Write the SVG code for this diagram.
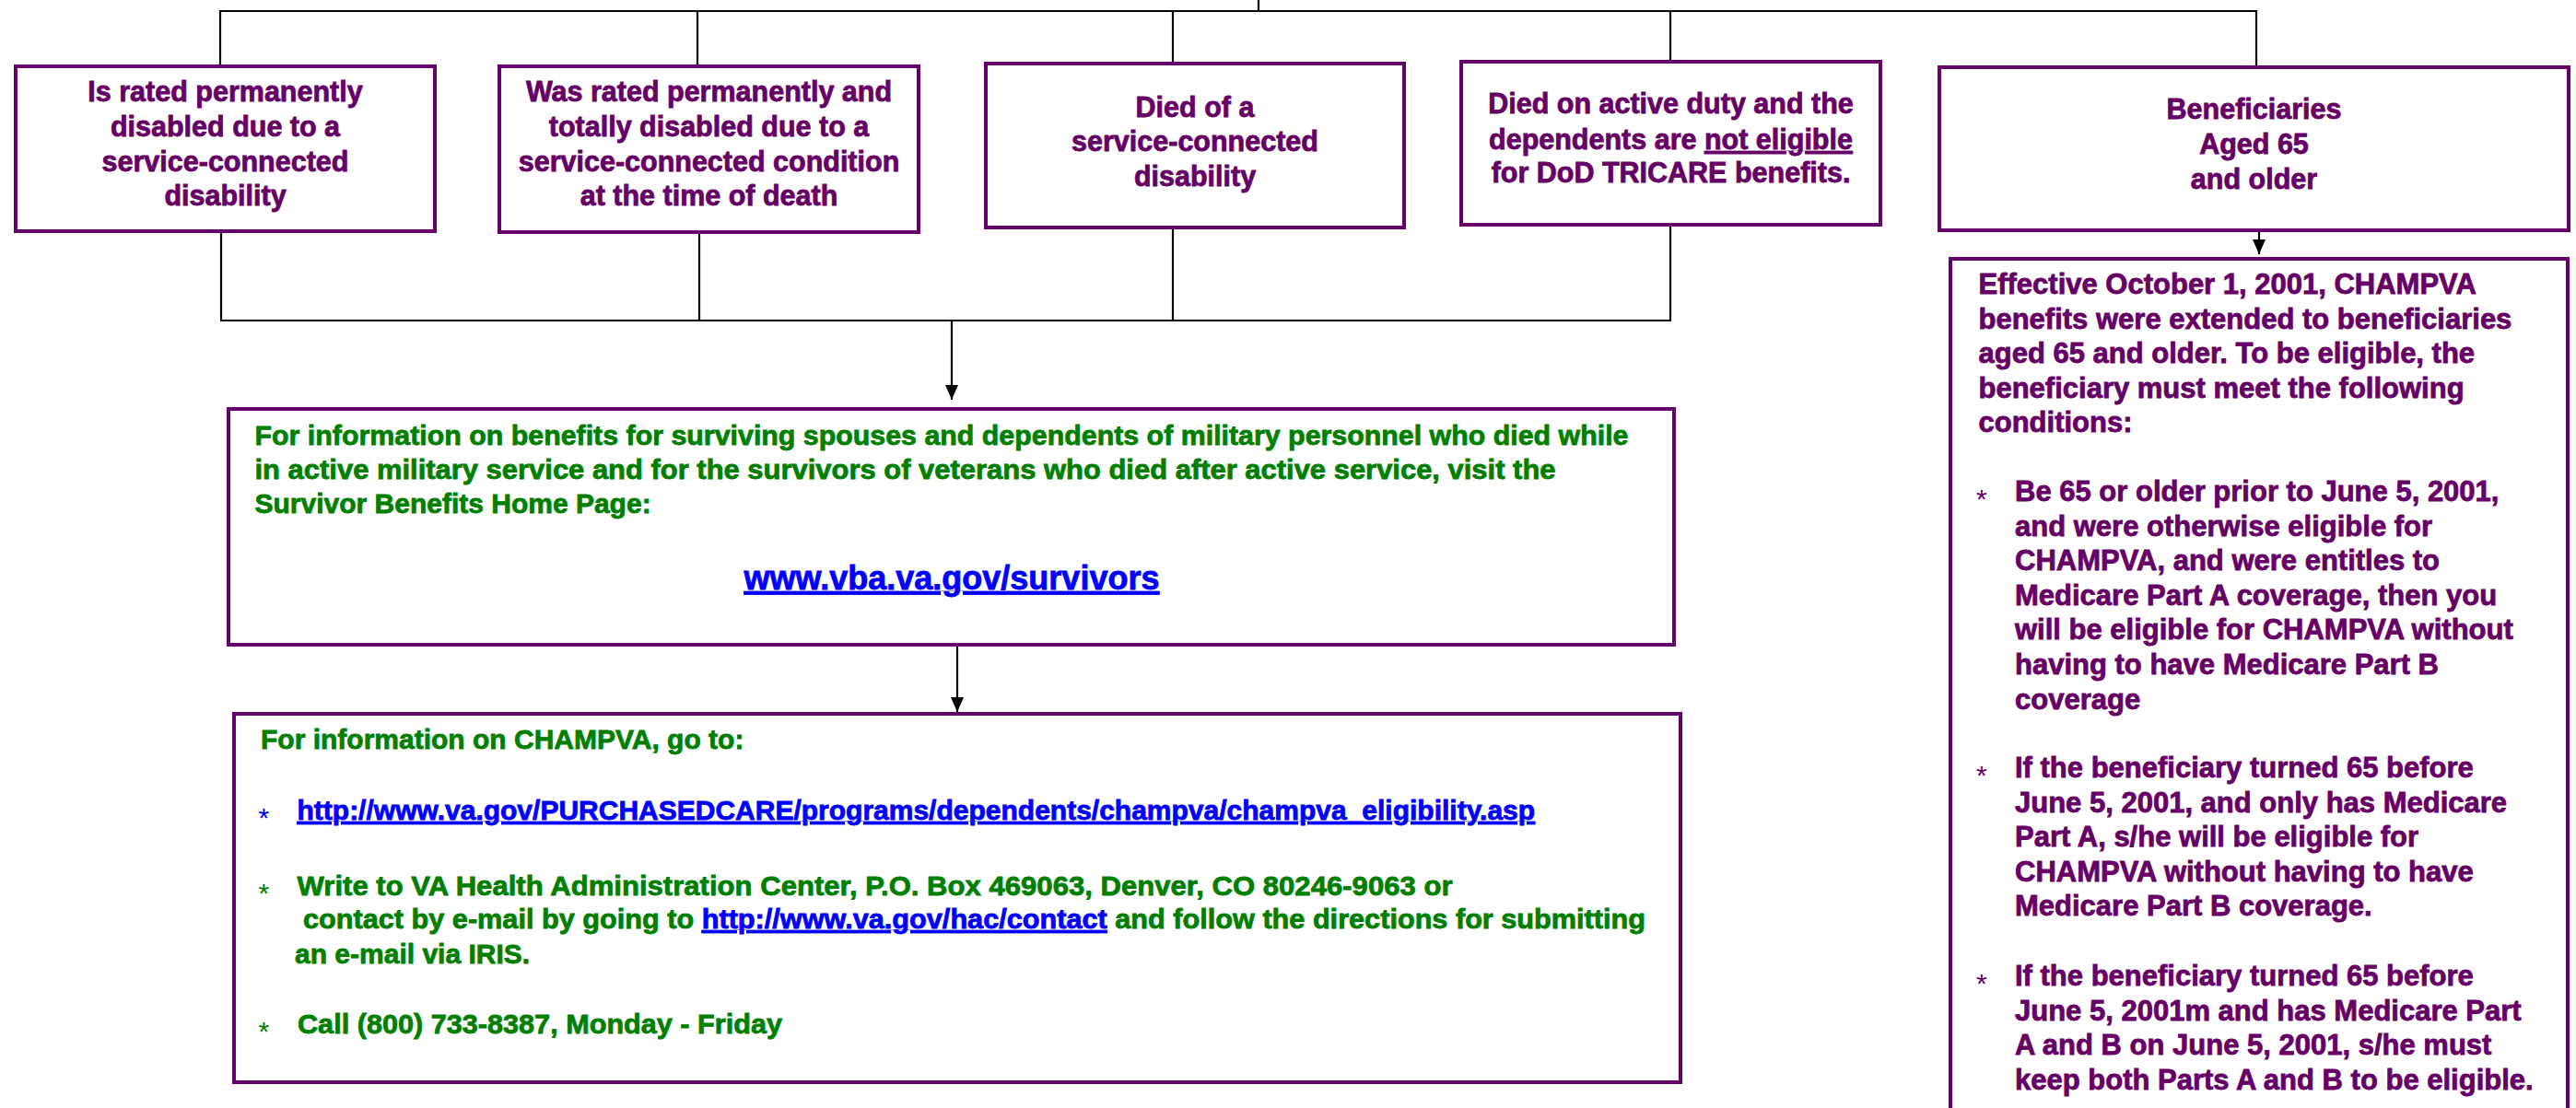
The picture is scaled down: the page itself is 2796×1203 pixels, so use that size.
<svg xmlns="http://www.w3.org/2000/svg" width="2796" height="1203" viewBox="0 0 2796 1203">
<defs>
<style>
.box{fill:#fff;stroke:#660066;stroke-width:4}
.ln{fill:none;stroke:#000;stroke-width:2.2}
.p{font-family:"Liberation Sans",Arial,sans-serif;font-weight:bold;font-size:30.5px;fill:#660066;stroke:#660066;stroke-width:0.8}
.g{font-family:"Liberation Sans",Arial,sans-serif;font-weight:bold;font-size:30px;fill:#007F00;stroke:#007F00;stroke-width:0.8}
.b{fill:#0000FF;stroke:#0000FF;text-decoration:underline}
.c{text-anchor:middle}
.ast{font-family:"Liberation Sans",Arial,sans-serif;font-weight:normal;font-size:30px;stroke:none}
</style>
<marker id="ah" viewBox="0 0 16 14" refX="16" refY="7" markerWidth="16" markerHeight="14" markerUnits="userSpaceOnUse" orient="auto">
<path d="M0,0 L16,7 L0,14 Z" fill="#000"/>
</marker>
</defs>
<rect width="2796" height="1203" fill="#fff"/>

<g id="connectors">
<path class="ln" d="M1366,0 V12"/>
<path class="ln" d="M238,12 H2450"/>
<path class="ln" d="M239,12 V72 M757,12 V72 M1273,12 V69 M1813,12 V67 M2449,12 V73"/>
<path class="ln" d="M240,251 V348 M759,252 V348 M1273,247 V348 M1813,244 V348 M239,348 H1814"/>
<path class="ln" d="M1033,348 V434" marker-end="url(#ah)"/>
<path class="ln" d="M1039,700 V773" marker-end="url(#ah)"/>
<path class="ln" d="M2452,250 V276" marker-end="url(#ah)"/>
</g>

<g id="n1">
<rect class="box" x="17" y="72" width="455" height="179"/>
<text class="p c" x="244.5" y="110">Is rated permanently</text>
<text class="p c" x="244.5" y="148">disabled due to a</text>
<text class="p c" x="244.5" y="186">service-connected</text>
<text class="p c" x="244.5" y="223">disability</text>
</g>

<g id="n2">
<rect class="box" x="542" y="72" width="455" height="180"/>
<text class="p c" x="769.5" y="110">Was rated permanently and</text>
<text class="p c" x="769.5" y="148">totally disabled due to a</text>
<text class="p c" x="769.5" y="186">service-connected condition</text>
<text class="p c" x="769.5" y="223">at the time of death</text>
</g>

<g id="n3">
<rect class="box" x="1070" y="69" width="454" height="178"/>
<text class="p c" x="1297" y="127">Died of a</text>
<text class="p c" x="1297" y="164">service-connected</text>
<text class="p c" x="1297" y="202">disability</text>
</g>

<g id="n4">
<rect class="box" x="1586" y="67" width="455" height="177"/>
<text class="p c" x="1813.5" y="123">Died on active duty and the</text>
<text class="p c" x="1813.5" y="162">dependents are <tspan text-decoration="underline">not eligible</tspan></text>
<text class="p c" x="1813.5" y="198">for DoD TRICARE benefits.</text>
</g>

<g id="n5">
<rect class="box" x="2105" y="73" width="683" height="177"/>
<text class="p c" x="2446.5" y="129">Beneficiaries</text>
<text class="p c" x="2446.5" y="167">Aged 65</text>
<text class="p c" x="2446.5" y="205">and older</text>
</g>

<g id="n6">
<rect class="box" x="248" y="444" width="1569" height="256"/>
<text class="g" x="276.5" y="483" textLength="1491" lengthAdjust="spacingAndGlyphs">For information on benefits for surviving spouses and dependents of military personnel who died while</text>
<text class="g" x="276.5" y="520" textLength="1412" lengthAdjust="spacingAndGlyphs">in active military service and for the survivors of veterans who died after active service, visit the</text>
<text class="g" x="276.5" y="557">Survivor Benefits Home Page:</text>
<text class="g b c" x="1033" y="640" style="font-size:36px">www.vba.va.gov/survivors</text>
</g>

<g id="n7">
<rect class="box" x="254" y="775" width="1570" height="400"/>
<text class="g" x="283" y="813">For information on CHAMPVA, go to:</text>
<text class="ast" x="280.5" y="898" fill="#0000FF">*</text>
<text class="g b" x="322.5" y="890">http://www.va.gov/PURCHASEDCARE/programs/dependents/champva/champva_eligibility.asp</text>
<text class="ast" x="280.5" y="980" fill="#007F00">*</text>
<text class="g" x="322.5" y="972" textLength="1254" lengthAdjust="spacingAndGlyphs">Write to VA Health Administration Center, P.O. Box 469063, Denver, CO 80246-9063 or</text>
<text class="g" x="329" y="1008" textLength="1457" lengthAdjust="spacingAndGlyphs">contact by e-mail by going to <tspan class="b">http://www.va.gov/hac/contact</tspan> and follow the directions for submitting</text>
<text class="g" x="320" y="1046">an e-mail via IRIS.</text>
<text class="ast" x="280.5" y="1130" fill="#007F00">*</text>
<text class="g" x="323" y="1122" textLength="526" lengthAdjust="spacingAndGlyphs">Call (800) 733-8387, Monday - Friday</text>
</g>

<g id="n8">
<rect class="box" x="2117" y="281" width="670" height="940"/>
<g class="p" style="font-size:31px">
<text x="2147.5" y="319">Effective October 1, 2001, CHAMPVA</text>
<text x="2147.5" y="357">benefits were extended to beneficiaries</text>
<text x="2147.5" y="394">aged 65 and older. To be eligible, the</text>
<text x="2147.5" y="432">beneficiary must meet the following</text>
<text x="2147.5" y="469">conditions:</text>
<text class="ast" x="2145" y="552" fill="#660066">*</text>
<text x="2187" y="544">Be 65 or older prior to June 5, 2001,</text>
<text x="2187" y="582">and were otherwise eligible for</text>
<text x="2187" y="619">CHAMPVA, and were entitles to</text>
<text x="2187" y="657">Medicare Part A coverage, then you</text>
<text x="2187" y="694">will be eligible for CHAMPVA without</text>
<text x="2187" y="732">having to have Medicare Part B</text>
<text x="2187" y="770">coverage</text>
<text class="ast" x="2145" y="852" fill="#660066">*</text>
<text x="2187" y="844">If the beneficiary turned 65 before</text>
<text x="2187" y="882">June 5, 2001, and only has Medicare</text>
<text x="2187" y="919">Part A, s/he will be eligible for</text>
<text x="2187" y="957">CHAMPVA without having to have</text>
<text x="2187" y="994">Medicare Part B coverage.</text>
<text class="ast" x="2145" y="1078" fill="#660066">*</text>
<text x="2187" y="1070">If the beneficiary turned 65 before</text>
<text x="2187" y="1108">June 5, 2001m and has Medicare Part</text>
<text x="2187" y="1145">A and B on June 5, 2001, s/he must</text>
<text x="2187" y="1183">keep both Parts A and B to be eligible.</text>
</g>
</g>
</svg>
